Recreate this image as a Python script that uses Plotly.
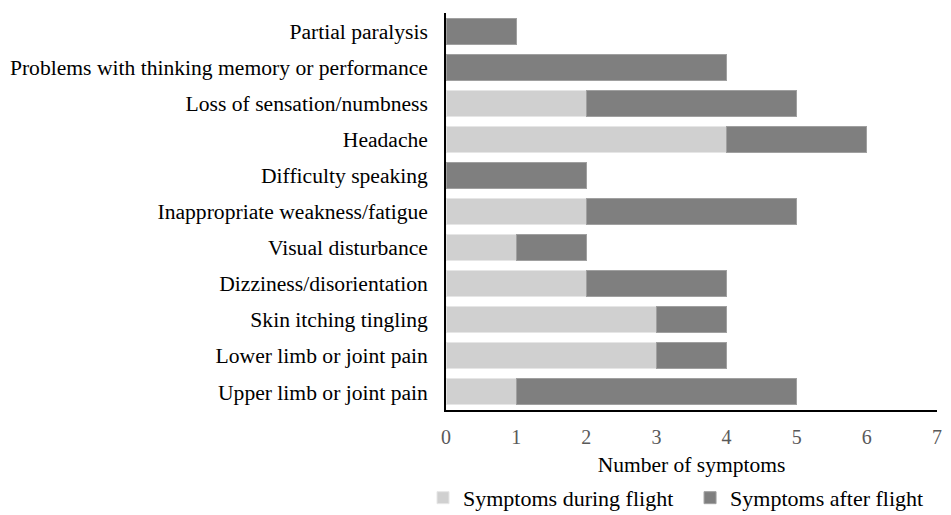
import plotly.graph_objects as go

categories = [
    "Partial paralysis",
    "Problems with thinking memory or performance",
    "Loss of sensation/numbness",
    "Headache",
    "Difficulty speaking",
    "Inappropriate weakness/fatigue",
    "Visual disturbance",
    "Dizziness/disorientation",
    "Skin itching tingling",
    "Lower limb or joint pain",
    "Upper limb or joint pain",
]
during_flight = [0, 0, 2, 4, 0, 2, 1, 2, 3, 3, 1]
after_flight = [1, 4, 3, 2, 2, 3, 1, 2, 1, 1, 4]

font_family = "Liberation Serif, Times New Roman, serif"

fig = go.Figure()
fig.add_trace(go.Bar(
    y=categories, x=during_flight, orientation="h",
    name="Symptoms during flight", legend="legend",
    marker=dict(color="#d0d0d0", line=dict(color="#e6e6e6", width=1)),
))
fig.add_trace(go.Bar(
    y=categories, x=after_flight, orientation="h",
    name="Symptoms after flight", legend="legend2",
    marker=dict(color="#7f7f7f", line=dict(color="#a0a0a0", width=1)),
))

legend_common = dict(
    orientation="h", xref="container", yref="container",
    y=0.008, yanchor="bottom",
    font=dict(size=22, color="black"), itemwidth=30,
    bgcolor="rgba(0,0,0,0)",
)

fig.update_layout(
    barmode="stack",
    bargap=0.28,
    width=951, height=515,
    margin=dict(l=438, r=22, t=5, b=113),
    plot_bgcolor="white", paper_bgcolor="white",
    font=dict(family=font_family, size=21.6, color="black"),
    showlegend=True,
    legend=dict(x=0.4364, xanchor="left", **legend_common),
    legend2=dict(x=0.7172, xanchor="left", **legend_common),
    xaxis=dict(
        range=[0, 7], dtick=1, showline=True, linecolor="black", linewidth=1.5,
        showgrid=False, zeroline=False, ticks="outside", ticklen=8,
        tickcolor="rgba(0,0,0,0)", automargin=False,
        tickfont=dict(size=20, color="#595959"),
        title=dict(text="Number of symptoms", font=dict(size=21.5, color="black"), standoff=12),
        fixedrange=True,
    ),
    yaxis=dict(
        categoryorder="array", categoryarray=categories[::-1],
        showline=True, linecolor="black", linewidth=1.5, automargin=False,
        showgrid=False, ticks="outside", ticklen=12, tickcolor="rgba(0,0,0,0)",
        tickfont=dict(size=21.6, color="black"),
        fixedrange=True,
    ),
)

fig.write_html("out.html")
